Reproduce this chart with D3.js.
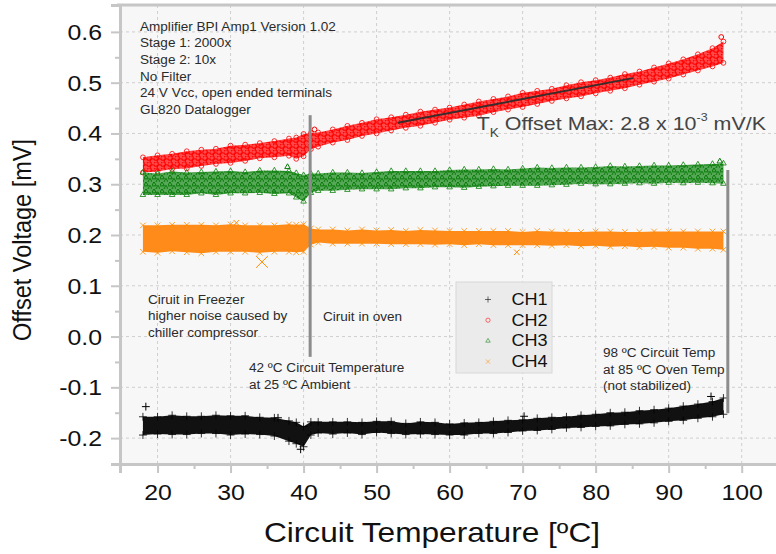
<!DOCTYPE html>
<html lang="en">
<head>
<meta charset="UTF-8" />
<title>Offset Voltage vs Circuit Temperature</title>
<style>
  body { margin: 0; background: #fff; }
  text { font-family: "Liberation Sans", Arial, sans-serif; }
</style>
</head>
<body>
<div class="chart"></div>
<script src="https://cdn.jsdelivr.net/npm/d3@7"></script>
<script>
var temps = [18, 20, 22, 24, 26, 28, 30, 32, 34, 36, 38,
  39, 40, 41,
  42, 44, 46, 48, 50, 52, 54, 56, 58, 60, 62, 64, 66, 68,
  70, 72, 74, 76, 78, 80, 82, 84, 86, 88, 90, 92, 94, 96,
  97.5];

// band centre and half width per channel (mV)
var ch1Mid = [-0.176, -0.175, -0.174, -0.175, -0.174, -0.173, -0.175, -0.174, -0.176, -0.178, -0.186,
  -0.190, -0.197, -0.181,
  -0.179, -0.180, -0.179, -0.181, -0.178, -0.179, -0.182, -0.180, -0.181, -0.183, -0.182, -0.180, -0.179, -0.177,
  -0.175, -0.173, -0.171, -0.169, -0.167, -0.165, -0.163, -0.161, -0.159, -0.157, -0.154, -0.151, -0.147, -0.143,
  -0.137];
var ch1Spread = [0.018, 0.017, 0.019, 0.018, 0.017, 0.018, 0.019, 0.018, 0.017, 0.018, 0.020,
  0.021, 0.020, 0.013,
  0.011, 0.012, 0.011, 0.012, 0.011, 0.012, 0.011, 0.012, 0.012, 0.011, 0.012, 0.011, 0.012, 0.012,
  0.011, 0.012, 0.012, 0.011, 0.012, 0.012, 0.013, 0.012, 0.013, 0.013, 0.013, 0.014, 0.014, 0.015,
  0.016];

var ch2Mid = [0.338, 0.341, 0.345, 0.348, 0.352, 0.355, 0.359, 0.362, 0.366, 0.369, 0.373,
  0.371, 0.377, 0.385,
  0.388, 0.395, 0.401, 0.408, 0.414, 0.419, 0.424, 0.429, 0.434, 0.439, 0.444, 0.449, 0.455, 0.460,
  0.466, 0.471, 0.476, 0.482, 0.487, 0.492, 0.497, 0.503, 0.509, 0.516, 0.523, 0.531, 0.540, 0.550,
  0.560];
var ch2Spread = [0.015, 0.016, 0.015, 0.017, 0.016, 0.015, 0.017, 0.016, 0.015, 0.016, 0.017,
  0.021, 0.022, 0.016,
  0.014, 0.013, 0.014, 0.013, 0.014, 0.013, 0.013, 0.014, 0.013, 0.012, 0.013, 0.014, 0.013, 0.013,
  0.014, 0.013, 0.012, 0.013, 0.014, 0.013, 0.013, 0.014, 0.013, 0.014, 0.015, 0.015, 0.016, 0.018,
  0.021];

var ch3Mid = [0.301, 0.300, 0.302, 0.301, 0.303, 0.302, 0.304, 0.303, 0.305, 0.304, 0.304,
  0.298, 0.292, 0.302,
  0.304, 0.305, 0.306, 0.306, 0.307, 0.308, 0.309, 0.309, 0.310, 0.311, 0.311, 0.312, 0.313, 0.313,
  0.314, 0.315, 0.315, 0.316, 0.317, 0.317, 0.318, 0.318, 0.319, 0.319, 0.320, 0.320, 0.321, 0.321,
  0.321];
var ch3Spread = [0.022, 0.021, 0.023, 0.022, 0.021, 0.023, 0.022, 0.021, 0.022, 0.023, 0.022,
  0.024, 0.026, 0.019,
  0.017, 0.018, 0.017, 0.016, 0.017, 0.018, 0.017, 0.017, 0.016, 0.017, 0.018, 0.017, 0.017, 0.016,
  0.017, 0.018, 0.017, 0.017, 0.016, 0.017, 0.018, 0.017, 0.017, 0.018, 0.017, 0.018, 0.018, 0.019,
  0.020];

var ch4Mid = [0.193, 0.192, 0.194, 0.193, 0.192, 0.193, 0.194, 0.193, 0.192, 0.193, 0.194,
  0.193, 0.194, 0.197,
  0.198, 0.197, 0.196, 0.197, 0.196, 0.196, 0.195, 0.196, 0.195, 0.195, 0.194, 0.195, 0.194, 0.194,
  0.193, 0.194, 0.193, 0.193, 0.192, 0.193, 0.192, 0.192, 0.191, 0.192, 0.191, 0.191, 0.190, 0.190,
  0.189];
var ch4Spread = [0.026, 0.027, 0.026, 0.027, 0.028, 0.026, 0.027, 0.026, 0.027, 0.026, 0.027,
  0.027, 0.027, 0.016,
  0.013, 0.014, 0.013, 0.014, 0.013, 0.014, 0.013, 0.014, 0.014, 0.013, 0.014, 0.013, 0.014, 0.014,
  0.013, 0.014, 0.014, 0.013, 0.014, 0.014, 0.015, 0.014, 0.015, 0.015, 0.016, 0.016, 0.017, 0.017,
  0.018];

// stray points outside the bands
var ch1OutT = [18.4, 39.6, 36.5, 70.2, 95.8];
var ch1OutV = [-0.138, -0.222, -0.160, -0.157, -0.118];
var ch2OutT = [97.2, 41.5];
var ch2OutV = [0.590, 0.408];
var ch3OutT = [97.0, 37.8];
var ch3OutV = [0.345, 0.334];
var ch4OutT = [34.3, 30.8, 69.2];
var ch4OutV = [0.147, 0.224, 0.166];

// linear fit on CH2 and the two phase markers
var fitT = [52.9, 85.1];
var fitV = [0.421, 0.509];
var markT = [40.9, 98.1];
var markTop = [0.436, 0.328];
var markBottom = [-0.040, -0.151];

var xTicks = [20, 30, 40, 50, 60, 70, 80, 90, 100];
var xMinor = [25, 35, 45, 55, 65, 75, 85, 95];
var yTicks = [-0.2, -0.1, 0.0, 0.1, 0.2, 0.3, 0.4, 0.5, 0.6];
var yMinor = [-0.15, -0.05, 0.05, 0.15, 0.25, 0.35, 0.45, 0.55];
var legendNames = ["CH1", "CH2", "CH3", "CH4"];

var infoLines = ["Amplifier BPI Amp1 Version 1.02", "Stage 1: 2000x", "Stage 2: 10x",
  "No Filter", "24 V Vcc, open ended terminals", "GL820 Datalogger"];
var freezerLines = ["Ciruit in Freezer", "higher noise caused by", "chiller compressor"];
var startLines = ["42 \u00baC Circuit Temperature", "at 25 \u00baC Ambient"];
var endLines = ["98 \u00baC Circuit Temp", "at 85 \u00baC Oven Temp", "(not stabilized)"];

var w = 776,
  h = 554;
var sx = 1.13; // the source picture is stretched sideways

var svg = d3.select(".chart").append("svg")
  .attr("width", w)
  .attr("height", h);

var x = d3.scaleLinear().domain([14.86, 105]).range([120, 778.2]);
var y = d3.scaleLinear().domain([-0.251, 0.653]).range([464, 5]);

function place(sel, px, py, rot) {
  sel.attr("transform", "translate(" + px + "," + py + ") scale(" + sx + ",1)" + (rot ? " rotate(" + rot + ")" : ""));
}

var defs = svg.append("defs");
defs.append("clipPath").attr("id", "plot-clip")
  .append("rect")
  .attr("x", x.range()[0]).attr("y", y.range()[1])
  .attr("width", x.range()[1] - x.range()[0])
  .attr("height", y.range()[0] - y.range()[1]);

var redPat = defs.append("pattern").attr("id", "pat-red")
  .attr("patternUnits", "userSpaceOnUse").attr("width", 7).attr("height", 6);
redPat.append("rect").attr("width", 7).attr("height", 6).attr("fill", "#ff4848");
redPat.selectAll("circle").data([[2, 2], [5.5, 5]]).enter().append("circle")
  .attr("cx", function(d) { return d[0]; })
  .attr("cy", function(d) { return d[1]; })
  .attr("r", 2.3)
  .attr("fill", "none").attr("stroke", "#ff0000").attr("stroke-width", 1.1);

var greenPat = defs.append("pattern").attr("id", "pat-green")
  .attr("patternUnits", "userSpaceOnUse").attr("width", 8).attr("height", 7);
greenPat.append("rect").attr("width", 8).attr("height", 7).attr("fill", "#55a855");
greenPat.selectAll("path").data([[2, 2.5], [6, 6]]).enter().append("path")
  .attr("d", function(d) {
    return d3.symbol().type(d3.symbolTriangle2).size(16)();
  })
  .attr("transform", function(d) { return "translate(" + d[0] + "," + d[1] + ")"; })
  .attr("fill", "none").attr("stroke", "#087a08").attr("stroke-width", 1);

// plot background and grid
svg.append("rect")
  .attr("x", x.range()[0]).attr("y", y.range()[1])
  .attr("width", x.range()[1] - x.range()[0])
  .attr("height", y.range()[0] - y.range()[1])
  .attr("fill", "#f7f7f7");

svg.append("g").selectAll("line")
  .data(xTicks)
  .enter()
  .append("line")
  .attr("x1", function(d) { return x(d); })
  .attr("x2", function(d) { return x(d); })
  .attr("y1", y.range()[1]).attr("y2", y.range()[0])
  .attr("stroke", "#cfcfcf").attr("stroke-dasharray", "3,3");

svg.append("g").selectAll("line")
  .data(yTicks)
  .enter()
  .append("line")
  .attr("x1", x.range()[0]).attr("x2", x.range()[1])
  .attr("y1", function(d) { return y(d); })
  .attr("y2", function(d) { return y(d); })
  .attr("stroke", "#cfcfcf").attr("stroke-dasharray", "3,3");

// channel bands
var channels = [
  { name: "CH1", mid: ch1Mid, spread: ch1Spread, outT: ch1OutT, outV: ch1OutV, fill: "#111", color: "#000", sym: d3.symbolPlus, size: 22 },
  { name: "CH2", mid: ch2Mid, spread: ch2Spread, outT: ch2OutT, outV: ch2OutV, fill: "url(#pat-red)", color: "#ff0000", sym: d3.symbolCircle, size: 18 },
  { name: "CH3", mid: ch3Mid, spread: ch3Spread, outT: ch3OutT, outV: ch3OutV, fill: "url(#pat-green)", color: "#0a800a", sym: d3.symbolTriangle2, size: 22 },
  { name: "CH4", mid: ch4Mid, spread: ch4Spread, outT: ch4OutT, outV: ch4OutV, fill: "#ff8c1a", color: "#ff8a00", sym: d3.symbolTimes, size: 22 }
];

var area = d3.area()
  .x(function(d) { return x(d.t); })
  .y0(function(d) { return y(d.lo); })
  .y1(function(d) { return y(d.hi); });

var dataG = svg.append("g").attr("clip-path", "url(#plot-clip)");

channels.forEach(function(c) {
  var rows = temps.map(function(t, i) {
    return { t: t, lo: c.mid[i] - c.spread[i], hi: c.mid[i] + c.spread[i] };
  });
  dataG.append("path")
    .datum(rows)
    .attr("d", area)
    .attr("fill", c.fill);

  var edges = [];
  rows.forEach(function(r) {
    edges.push([r.t, r.lo]);
    edges.push([r.t, r.hi]);
  });
  dataG.append("g").selectAll("path")
    .data(edges)
    .enter()
    .append("path")
    .attr("d", d3.symbol().type(c.sym).size(c.size))
    .attr("transform", function(d) { return "translate(" + x(d[0]) + "," + y(d[1]) + ")"; })
    .attr("fill", "none")
    .attr("stroke", c.color)
    .attr("stroke-opacity", 0.8)
    .attr("stroke-width", 1);

  dataG.append("g").selectAll("path")
    .data(c.outT)
    .enter()
    .append("path")
    .attr("d", function(d, i) {
      // the big orange cross near 34 degC
      var s = (c.name == "CH4" && i == 0) ? 90 : c.size;
      return d3.symbol().type(c.sym).size(s)();
    })
    .attr("transform", function(d, i) { return "translate(" + x(d) + "," + y(c.outV[i]) + ")"; })
    .attr("fill", "none")
    .attr("stroke", c.color)
    .attr("stroke-width", 1);
});

// fit line and phase markers
svg.append("line")
  .attr("x1", x(fitT[0])).attr("y1", y(fitV[0]))
  .attr("x2", x(fitT[1])).attr("y2", y(fitV[1]))
  .attr("stroke", "#3b2b2b").attr("stroke-width", 2);

svg.append("g").selectAll("line")
  .data(markT)
  .enter()
  .append("line")
  .attr("x1", function(d) { return x(d); })
  .attr("x2", function(d) { return x(d); })
  .attr("y1", function(d, i) { return y(markTop[i]); })
  .attr("y2", function(d, i) { return y(markBottom[i]); })
  .attr("stroke", "#8c8c8c").attr("stroke-width", 3);

// axes
var axisColor = "#c6c6c6";

var xAxis = svg.append("g")
  .attr("transform", "translate(0," + y.range()[0] + ")")
  .call(d3.axisBottom(x).tickValues(xTicks).tickSize(9).tickFormat(function(d) { return d; }));
svg.append("g")
  .attr("transform", "translate(0," + y.range()[0] + ")")
  .call(d3.axisBottom(x).tickValues(xMinor).tickSize(5).tickFormat(""))
  .call(function(g) { g.select(".domain").remove(); });

var yAxis = svg.append("g")
  .attr("transform", "translate(" + x.range()[0] + ",0)")
  .call(d3.axisLeft(y).tickValues(yTicks).tickSize(9).tickFormat(function(d) { return d.toFixed(1); }));
svg.append("g")
  .attr("transform", "translate(" + x.range()[0] + ",0)")
  .call(d3.axisLeft(y).tickValues(yMinor).tickSize(5).tickFormat(""))
  .call(function(g) { g.select(".domain").remove(); });

svg.selectAll(".domain").attr("stroke", axisColor).attr("stroke-width", 3);
svg.selectAll(".tick line").attr("stroke", axisColor).attr("stroke-width", 2);

xAxis.selectAll(".tick text")
  .attr("y", 0).attr("dy", 0)
  .attr("font-size", 22)
  .attr("fill", "#111")
  .each(function() { place(d3.select(this), 0, 36); });

yAxis.selectAll(".tick text")
  .attr("x", 0).attr("dy", 0)
  .attr("font-size", 22)
  .attr("fill", "#111")
  .each(function() { place(d3.select(this), -18, 7.5); });

// top frame line
svg.append("line")
  .attr("x1", x.range()[0] - 3).attr("x2", x.range()[1])
  .attr("y1", y.range()[1]).attr("y2", y.range()[1])
  .attr("stroke", axisColor).attr("stroke-width", 3);

// axis titles
svg.append("text")
  .attr("text-anchor", "middle")
  .attr("font-size", 28)
  .attr("fill", "#111")
  .text("Circuit Temperature [\u00baC]")
  .call(place, 432, 542);

svg.append("text")
  .attr("text-anchor", "middle")
  .attr("font-size", 23.5)
  .attr("fill", "#111")
  .text("Offset Voltage [mV]")
  .call(place, 31, 240, -90);

// annotations
function block(lines, px, py, step) {
  var g = svg.append("g");
  lines.forEach(function(s, i) {
    g.append("text")
      .attr("font-size", 12)
      .attr("fill", "#2b2b2b")
      .text(s)
      .call(place, px, py + i * step);
  });
}
block(infoLines, 140, 30.5, 16.7);
block(freezerLines, 148, 303.5, 16.7);
block(["Ciruit in oven"], 323, 320.5, 16.7);
block(startLines, 249, 372, 16.7);
block(endLines, 603, 357, 16.5);

var tk = svg.append("text")
  .attr("font-size", 19)
  .attr("fill", "#444");
tk.append("tspan").text("T");
tk.append("tspan").attr("font-size", 12).attr("dy", 7).text("K");
tk.append("tspan").attr("dy", -7).text(" Offset Max: 2.8 x 10");
tk.append("tspan").attr("font-size", 11).attr("dy", -9).text("-3");
tk.append("tspan").attr("dy", 9).text(" mV/K");
tk.call(place, 476.7, 130);

// legend
var legend = svg.append("g");
legend.append("rect")
  .attr("x", 456).attr("y", 282)
  .attr("width", 96).attr("height", 91)
  .attr("fill", "#ebebeb")
  .attr("stroke", "#d8d8d8");

legend.selectAll("path")
  .data(channels)
  .enter()
  .append("path")
  .attr("d", function(d) { return d3.symbol().type(d.sym).size(14)(); })
  .attr("transform", function(d, i) { return "translate(488," + (299.5 + i * 20.7) + ")"; })
  .attr("fill", "none")
  .attr("stroke", function(d) { return d.color; })
  .attr("stroke-opacity", 0.7)
  .attr("stroke-width", 0.8);

legend.selectAll("text")
  .data(legendNames)
  .enter()
  .append("text")
  .attr("font-size", 16)
  .attr("fill", "#111")
  .text(function(d) { return d; })
  .each(function(d, i) { place(d3.select(this), 511.5, 305 + i * 20.7); });
</script>
</body>
</html>
